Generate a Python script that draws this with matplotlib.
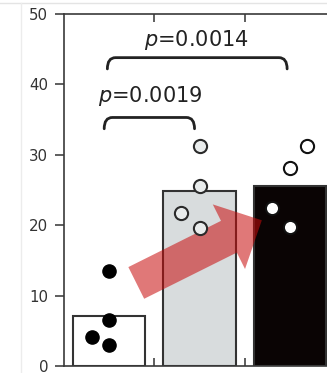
import matplotlib
matplotlib.use("Agg")
import matplotlib.pyplot as plt
from matplotlib.patches import FancyArrowPatch, ArrowStyle, PathPatch
from matplotlib.path import Path
from matplotlib.lines import Line2D
import numpy as np

# ---- data ----
categories = ["A", "B", "C"]
bar_means = [7.1, 24.8, 25.5]
group1_y = [13.5, 6.5, 4.1, 3.0]
group1_dx = [0.0, 0.0, -0.19, 0.0]
group2_y = [31.2, 25.5, 21.7, 19.6]
group2_dx = [0.0, 0.0, -0.2, 0.0]
group3_y = [31.2, 28.1, 22.5, 19.7]
group3_dx = [0.19, 0.0, -0.2, 0.0]
y_ticks = [0, 10, 20, 30, 40, 50]
pvals = ["0.0019", "0.0014"]

# ---- styles ----
bar_faces = ["white", "#d8dcdd", "#0a0404"]
bar_edge = "#333333"
dark = "#333333"

W, H = 327, 373
fig = plt.figure(figsize=(W / 100, H / 100), dpi=100)
plt.rcParams['font.family'] = ['DejaVu Sans']

# figure border lines (light)
fig.add_artist(Line2D([0, 1], [1 - 2.5 / H, 1 - 2.5 / H], color="#e4e4e4", lw=1, transform=fig.transFigure))
fig.add_artist(Line2D([21 / W, 21 / W], [0, 1 - 2.5 / H], color="#ececec", lw=1, transform=fig.transFigure))

left, right = 64 / W, 335 / W
bottom, top = (H - 366) / H, (H - 14) / H
ax = fig.add_axes([left, bottom, right - left, top - bottom])

x = np.arange(len(categories))
ax.bar(x, bar_means, width=0.8, color=bar_faces, edgecolor=bar_edge, linewidth=1.5, zorder=2)

ax.scatter(x[0] + np.array(group1_dx), group1_y, s=90, c="black", edgecolors="black",
           linewidths=1.0, zorder=5)
ax.scatter(x[1] + np.array(group2_dx), group2_y, s=90, c="#e9ecec", edgecolors="#2a2a2a",
           linewidths=1.5, zorder=5)
ax.scatter(x[2] + np.array(group3_dx), group3_y, s=90, c="white", edgecolors="#111111",
           linewidths=1.5, zorder=5)

ax.set_xlim(-0.5, 2.5)
ax.set_ylim(0, 50)
ax.set_yticks(y_ticks)
ax.set_xticks([0.5, 1.5])
ax.set_xticklabels([])
ax.tick_params(axis="y", direction="out", length=6.5, width=1.1, color=dark,
               labelsize=10.8, labelcolor="#333333", pad=5)
ax.tick_params(axis="x", direction="in", length=6, width=1.1, color=dark,
               top=True, bottom=True, labelbottom=False)
for sp in ax.spines.values():
    sp.set_linewidth(1.2)
    sp.set_color("#3a3a3a")


def bracket(ax, x0, x1, y, drop=1.6, r=0.09):
    verts = [(x0, y - drop), (x0, y), (x0 + r, y), (x1 - r, y), (x1, y), (x1, y - drop)]
    codes = [Path.MOVETO, Path.CURVE3, Path.CURVE3, Path.LINETO, Path.CURVE3, Path.CURVE3]
    ax.add_patch(PathPatch(Path(verts, codes), fill=False, lw=2.0, edgecolor="#222222",
                           zorder=6, capstyle="round"))


bracket(ax, -0.055, 0.945, 35.3)
bracket(ax, -0.02, 1.97, 43.8)

ax.text(0.45, 37.5, r"$\mathit{p}$=" + pvals[0], ha="center", va="baseline",
        fontsize=15, color="#222222", zorder=6)
ax.text(0.97, 45.4, r"$\mathit{p}$=" + pvals[1], ha="center", va="baseline",
        fontsize=15, color="#222222", zorder=6)

# red arrow
arrow_tail = (0.30, 11.8)
arrow_tip = (1.69, 20.7)
arr = FancyArrowPatch(arrow_tail, arrow_tip, shrinkA=0, shrinkB=0,
                      arrowstyle=ArrowStyle("simple", head_length=26.5, head_width=52, tail_width=25.5),
                      mutation_scale=1, color="#c80a0a", alpha=0.55, lw=0, zorder=4)
ax.add_patch(arr)

fig.savefig("out.png", dpi=100)
